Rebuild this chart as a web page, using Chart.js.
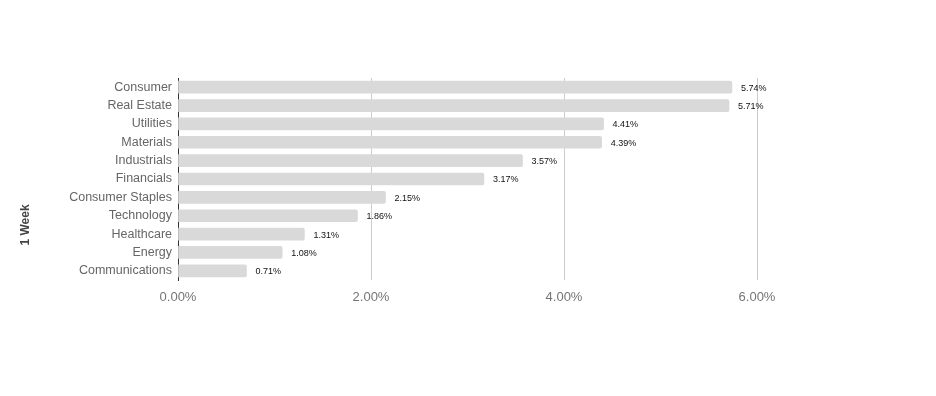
<!DOCTYPE html>
<html>
<head>
<meta charset="utf-8">
<script src="https://cdn.jsdelivr.net/npm/chart.js@4/dist/chart.umd.min.js"></script>
<style>
  html, body { margin: 0; padding: 0; background: #fff; }
  #sectorChart { display: block; }
</style>
</head>
<body>
<canvas id="sectorChart" width="936" height="396"></canvas>
<script>
  "use strict";

  // data
  var sectors = ['Consumer', 'Real Estate', 'Utilities', 'Materials', 'Industrials', 'Financials',
    'Consumer Staples', 'Technology', 'Healthcare', 'Energy', 'Communications'];
  var weekReturns = [5.74, 5.71, 4.41, 4.39, 3.57, 3.17, 2.15, 1.86, 1.31, 1.08, 0.71];
  var xTicks = [0, 2, 4, 6];
  var axisTitle = '1 Week';

  /*value labels at the end of each bar*/
  var barLabels = {
    id: 'barLabels',
    afterDatasetsDraw: function(chart) {
      var ctx = chart.ctx;
      var meta = chart.getDatasetMeta(0);
      ctx.save();
      ctx.font = '9px "Liberation Sans", Arial, sans-serif';
      ctx.fillStyle = '#111';
      ctx.textAlign = 'left';
      ctx.textBaseline = 'middle';
      meta.data.forEach(function(bar, i) {
        ctx.fillText(weekReturns[i].toFixed(2) + '%', bar.x + 9, bar.y + 1);
      });
      ctx.restore();
    }
  };

  /*rotated axis title on the far left*/
  var sideTitle = {
    id: 'sideTitle',
    afterDraw: function(chart) {
      var ctx = chart.ctx;
      ctx.save();
      ctx.translate(26, 225);
      ctx.rotate(-Math.PI / 2);
      ctx.font = 'bold 12px "Liberation Sans", Arial, sans-serif';
      ctx.fillStyle = '#444';
      ctx.textAlign = 'center';
      ctx.textBaseline = 'middle';
      ctx.fillText(axisTitle, 0, 0);
      ctx.restore();
    }
  };

  var ctx = document.getElementById('sectorChart').getContext('2d');
  var chart = new Chart(ctx, {
    type: 'bar',
    data: {
      labels: sectors,
      datasets: [{
        label: axisTitle,
        data: weekReturns,
        backgroundColor: '#d9d9d9',
        borderRadius: 2,
        barThickness: 12
      }]
    },
    options: {
      indexAxis: 'y',
      responsive: false,
      animation: false,
      layout: {
        padding: { top: 78, right: 179, bottom: 86, left: 0 }
      },
      scales: {
        x: {
          min: 0,
          max: 6,
          afterFit: function(scale) { scale.height = 30; },
          afterBuildTicks: function(scale) {
            scale.ticks = xTicks.map(function(v) { return { value: v }; });
          },
          grid: {
            drawTicks: false,
            color: function(c) { return c.tick && c.tick.value === 0 ? 'rgba(0,0,0,0)' : '#cccccc'; }
          },
          border: { display: false },
          ticks: {
            padding: 10,
            color: '#757575',
            font: { family: '"Liberation Sans", Arial, sans-serif', size: 13 },
            callback: function(v) { return Number(v).toFixed(2) + '%'; }
          }
        },
        y: {
          afterFit: function(scale) { scale.width = 178; },
          grid: { display: false, drawTicks: false },
          border: { display: true, color: '#333333', width: 1 },
          ticks: {
            padding: 6,
            color: '#666666',
            font: { family: '"Liberation Sans", Arial, sans-serif', size: 12.5 }
          }
        }
      },
      plugins: {
        legend: { display: false },
        tooltip: { enabled: false }
      }
    },
    plugins: [barLabels, sideTitle]
  });
</script>
</body>
</html>
